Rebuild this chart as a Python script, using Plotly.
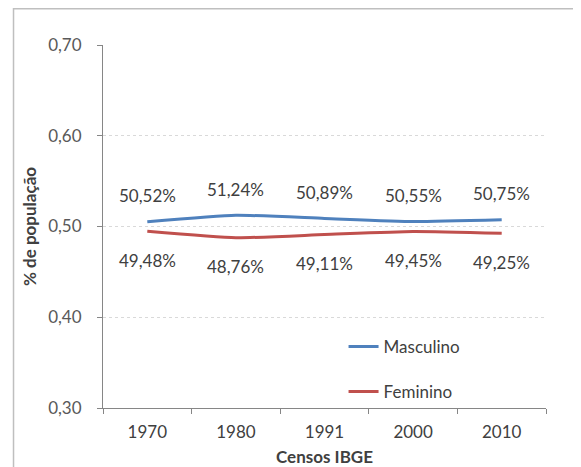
import plotly.graph_objects as go

# Censos IBGE - share of population by sex
anos = ["1970", "1980", "1991", "2000", "2010"]
masculino = [0.5052, 0.5124, 0.5089, 0.5055, 0.5075]
feminino = [0.4948, 0.4876, 0.4911, 0.4945, 0.4925]
rotulos_masc = ["50,52%", "51,24%", "50,89%", "50,55%", "50,75%"]
rotulos_fem = ["49,48%", "48,76%", "49,11%", "49,45%", "49,25%"]

AZUL = "#4F81BD"
VERMELHO = "#C0504D"
FONTE = "Lato, 'Open Sans', sans-serif"
TAM = 17

fig = go.Figure()
fig.add_trace(go.Scatter(
    x=anos, y=masculino, name="Masculino", mode="lines", legendgroup="m",
    line=dict(color=AZUL, width=3, shape="spline", smoothing=0.5),
    hoverinfo="skip",
))
fig.add_trace(go.Scatter(
    x=anos, y=feminino, name="Feminino", mode="lines", legendgroup="f",
    line=dict(color=VERMELHO, width=3, shape="spline", smoothing=0.5),
    hoverinfo="skip",
))

# data labels: male above, female below the lines (x = category index)
for i, (v, t) in enumerate(zip(masculino, rotulos_masc)):
    fig.add_annotation(x=i, y=v, xref="x", yref="y", text=t, showarrow=False,
                       yshift=26, font=dict(size=TAM, color="#404040", family=FONTE))
for i, (v, t) in enumerate(zip(feminino, rotulos_fem)):
    fig.add_annotation(x=i, y=v, xref="x", yref="y", text=t, showarrow=False,
                       yshift=-29, font=dict(size=TAM, color="#404040", family=FONTE))

# outer chart frame
fig.add_shape(type="rect", xref="paper", yref="paper",
              x0=-0.202, x1=1.07, y0=-0.3, y1=1.1,
              line=dict(color="#BFBFBF", width=1.5), layer="below")

fig.update_layout(
    width=581, height=467,
    margin=dict(l=95, r=43, t=37, b=67),
    paper_bgcolor="white", plot_bgcolor="white",
    separators=",.",
    font=dict(family=FONTE, size=TAM, color="#595959"),
    showlegend=True,
    legend=dict(x=0.543, y=0.218, xanchor="left", yanchor="top",
                bgcolor="rgba(0,0,0,0)", font=dict(size=TAM, color="#404040"),
                traceorder="grouped", tracegroupgap=20, itemwidth=30),
    xaxis=dict(
        type="category", showgrid=False,
        showline=True, linecolor="#868686", linewidth=1,
        ticks="outside", ticklen=5, tickcolor="#868686", tickson="boundaries",
        ticklabelstandoff=9,
        tickfont=dict(size=TAM, color="#404040"),
        title=dict(text="<b>Censos IBGE</b>", standoff=9,
                   font=dict(size=TAM, color="#404040")),
        range=[-0.5, 4.5], fixedrange=True,
    ),
    yaxis=dict(
        range=[0.30, 0.70], tickvals=[0.30, 0.40, 0.50, 0.60, 0.70],
        tickformat=".2f",
        showgrid=True, gridcolor="#D9D9D9", griddash="dot", gridwidth=1,
        showline=True, linecolor="#868686", linewidth=1,
        ticks="outside", ticklen=5, tickcolor="#868686",
        ticklabelstandoff=12,
        tickfont=dict(size=TAM, color="#595959"),
        title=dict(text="<b>% de população</b>", standoff=7,
                   font=dict(size=TAM, color="#404040")),
        zeroline=False, fixedrange=True,
    ),
)

fig.write_html("out.html")
